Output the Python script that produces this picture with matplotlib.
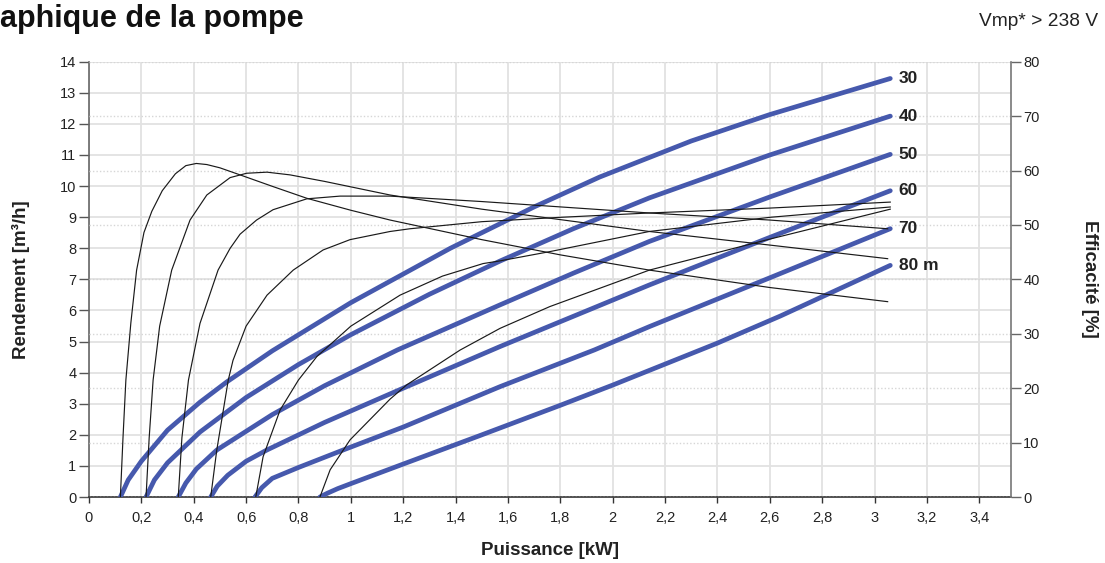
import matplotlib
matplotlib.use("Agg")
import matplotlib.pyplot as plt

plt.rcParams['font.family'] = ['Liberation Sans', 'DejaVu Sans']

# ---------------- data ----------------
head_labels = ['30', '40', '50', '60', '70', '80 m']

# Flow [m3/h] vs power [kW] for each head
q30_x = [0.12, 0.15, 0.2, 0.3, 0.424, 0.526, 0.7, 1.0, 1.38, 1.7, 1.95, 2.3, 2.6, 3.06]
q30_y = [0, 0.55, 1.15, 2.15, 3.05, 3.70, 4.7, 6.25, 8.0, 9.33, 10.29, 11.45, 12.3, 13.46]
q40_x = [0.218, 0.25, 0.3, 0.424, 0.6, 0.8, 1.0, 1.3, 1.57, 1.85, 2.14, 2.6, 3.06]
q40_y = [0, 0.55, 1.1, 2.09, 3.2, 4.26, 5.22, 6.52, 7.59, 8.63, 9.62, 11.0, 12.25]
q50_x = [0.341, 0.37, 0.41, 0.488, 0.7, 0.9, 1.178, 1.57, 1.85, 2.14, 2.6, 3.06]
q50_y = [0, 0.45, 0.9, 1.51, 2.65, 3.58, 4.73, 6.18, 7.2, 8.22, 9.65, 11.02]
q60_x = [0.465, 0.49, 0.53, 0.6, 0.679, 0.9, 1.2, 1.57, 2.14, 2.6, 3.06]
q60_y = [0, 0.35, 0.7, 1.15, 1.51, 2.4, 3.5, 4.84, 6.82, 8.35, 9.85]
q70_x = [0.634, 0.66, 0.7, 0.8, 0.97, 1.2, 1.57, 1.93, 2.14, 2.6, 3.06]
q70_y = [0, 0.3, 0.6, 0.95, 1.51, 2.25, 3.55, 4.73, 5.48, 7.05, 8.63]
q80_x = [0.882, 0.91, 0.95, 1.0, 1.2, 1.494, 1.8, 2.0, 2.4, 2.64, 3.06]
q80_y = [0, 0.12, 0.27, 0.43, 1.06, 1.98, 2.95, 3.6, 4.95, 5.82, 7.45]

# Efficiency [%] vs power [kW] for each head
e30_x = [0.12, 0.13, 0.141, 0.16, 0.182, 0.21, 0.24, 0.28, 0.33, 0.37, 0.41, 0.45,
         0.5, 0.577, 0.7, 0.832, 1.0, 1.15, 1.5, 1.8, 2.14, 2.6, 3.05]
e30_y = [0, 10.9, 21.5, 32, 41.7, 48.6, 52.5, 56.3, 59.4, 60.9, 61.3, 61.1,
         60.5, 59.2, 57.1, 54.9, 52.7, 50.9, 47.3, 44.5, 41.7, 38.5, 35.9]
e40_x = [0.218, 0.23, 0.245, 0.27, 0.316, 0.386, 0.45, 0.539, 0.602, 0.68, 0.768,
         0.9, 1.15, 1.5, 2.14, 2.6, 3.05]
e40_y = [0, 10.9, 21.5, 31.4, 41.7, 50.9, 55.5, 58.7, 59.5, 59.7, 59.2,
         58.0, 55.5, 52.9, 48.8, 46.3, 43.8]
e50_x = [0.341, 0.355, 0.38, 0.424, 0.493, 0.539, 0.577, 0.64, 0.703, 0.832, 0.959,
         1.15, 1.5, 2.14, 2.6, 3.05]
e50_y = [0, 10.9, 21.5, 31.9, 41.7, 45.7, 48.3, 50.9, 52.8, 54.8, 55.3,
         55.3, 54.3, 52.2, 50.9, 49.3]
e60_x = [0.465, 0.488, 0.532, 0.55, 0.6, 0.68, 0.78, 0.894, 0.997, 1.15, 1.226,
         1.5, 1.8, 2.14, 2.6, 3.06]
e60_y = [0, 8.6, 21.5, 25.1, 31.4, 37.1, 41.7, 45.4, 47.3, 48.8, 49.3,
         50.6, 51.4, 52.2, 53.1, 54.2]
e70_x = [0.637, 0.665, 0.73, 0.8, 0.87, 1.0, 1.188, 1.35, 1.505, 1.57, 1.76,
         2.14, 2.6, 3.06]
e70_y = [0, 7.4, 16.0, 21.5, 25.8, 31.4, 37.1, 40.6, 42.9, 43.4, 45.1,
         48.8, 51.4, 53.3]
e80_x = [0.882, 0.921, 0.997, 1.15, 1.213, 1.417, 1.57, 1.76, 2.14, 2.6, 3.06]
e80_y = [0, 5.0, 10.5, 18.0, 20.6, 27.0, 31.0, 35.0, 41.7, 47.4, 52.9]

flow_curves = [(q30_x, q30_y), (q40_x, q40_y), (q50_x, q50_y),
               (q60_x, q60_y), (q70_x, q70_y), (q80_x, q80_y)]
eff_curves = [(e30_x, e30_y), (e40_x, e40_y), (e50_x, e50_y),
              (e60_x, e60_y), (e70_x, e70_y), (e80_x, e80_y)]

x_ticks = [0, 0.2, 0.4, 0.6, 0.8, 1, 1.2, 1.4, 1.6, 1.8, 2, 2.2, 2.4, 2.6, 2.8, 3, 3.2, 3.4]
x_ticklabels = ['0', '0,2', '0,4', '0,6', '0,8', '1', '1,2', '1,4', '1,6', '1,8',
                '2', '2,2', '2,4', '2,6', '2,8', '3', '3,2', '3,4']
left_ticks = list(range(0, 15))
right_ticks = list(range(0, 90, 10))

title_text = 'aphique de la pompe'
voltage_text = 'Vmp* > 238 V'
xlabel_text = 'Puissance [kW]'
ylabel_left = 'Rendement [m³/h]'
ylabel_right = 'Efficacité [%]'

# ---------------- style ----------------
BLUE = '#4659AD'
BLACK = '#1a1a1a'
GRID = '#e2e2e2'
TXT = '#222222'

fig = plt.figure(figsize=(11.05, 5.63), dpi=100)
ax1 = fig.add_axes([0.0805, 0.1172, 0.9147 - 0.0805, 0.8904 - 0.1172])
ax2 = ax1.twinx()

ax1.set_xlim(0, 3.52)
ax1.set_ylim(0, 14)
ax2.set_ylim(0, 80)

# grids
ax1.set_xticks(x_ticks)
ax1.set_xticklabels(x_ticklabels)
ax1.set_yticks(left_ticks)
ax1.grid(True, color=GRID, linewidth=1.3, linestyle='-')
ax1.set_axisbelow(True)
ax2.set_yticks(right_ticks)
ax2.grid(True, axis='y', color='#d6d6d6', linewidth=1.0, linestyle=(0, (1, 1.5)))
ax2.set_axisbelow(True)

# curves
for (x, y) in flow_curves:
    ax2.plot(x, y, color=BLUE, linewidth=3.4, solid_capstyle='round',
             solid_joinstyle='round', transform=ax1.transData, zorder=3)
for (x, y) in eff_curves:
    ax2.plot(x, y, color=BLACK, linewidth=0.85, solid_joinstyle='round', zorder=4)

for (x, y), lab in zip(flow_curves, head_labels):
    ax2.annotate(lab, xy=(x[-1], y[-1]), xycoords=ax1.transData,
                 xytext=(6, 0), textcoords='offset points',
                 ha='left', va='center', fontsize=12.5, fontweight='bold',
                 color=TXT, zorder=5, annotation_clip=False)

# spines
for ax in (ax1, ax2):
    ax.spines['top'].set_visible(False)
ax1.spines['left'].set_color('#666666')
ax1.spines['left'].set_linewidth(1.2)
ax1.spines['bottom'].set_color('#333333')
ax1.spines['bottom'].set_linewidth(1.2)
ax2.spines['right'].set_color('#777777')
ax2.spines['right'].set_linewidth(1.2)
ax2.spines['left'].set_visible(False)
ax2.spines['bottom'].set_visible(False)
ax1.spines['right'].set_visible(False)

ax1.tick_params(axis='y', direction='out', length=7, width=1, color='#555555',
                labelsize=10.5, labelcolor=TXT, pad=2)
ax1.tick_params(axis='x', direction='out', length=4, width=1, color='#333333',
                labelsize=10.5, labelcolor=TXT, pad=6)
ax2.tick_params(axis='y', direction='out', length=7, width=1, color='#666666',
                labelsize=10.5, labelcolor=TXT, pad=2)

ax1.set_xlabel(xlabel_text, fontsize=13.5, fontweight='bold', color=TXT, labelpad=12)
ax1.set_ylabel(ylabel_left, fontsize=13.5, fontweight='bold', color=TXT, labelpad=22)
ax2.set_ylabel(ylabel_right, fontsize=13.5, fontweight='bold', color=TXT,
               rotation=270, labelpad=42)

fig.text(0.0, 0.966, title_text, fontsize=22, fontweight='bold', color='#111111',
         ha='left', va='center')
fig.text(0.994, 0.962, voltage_text, fontsize=13.8, color=TXT, ha='right', va='center')

fig.savefig('out.png', dpi=100)
